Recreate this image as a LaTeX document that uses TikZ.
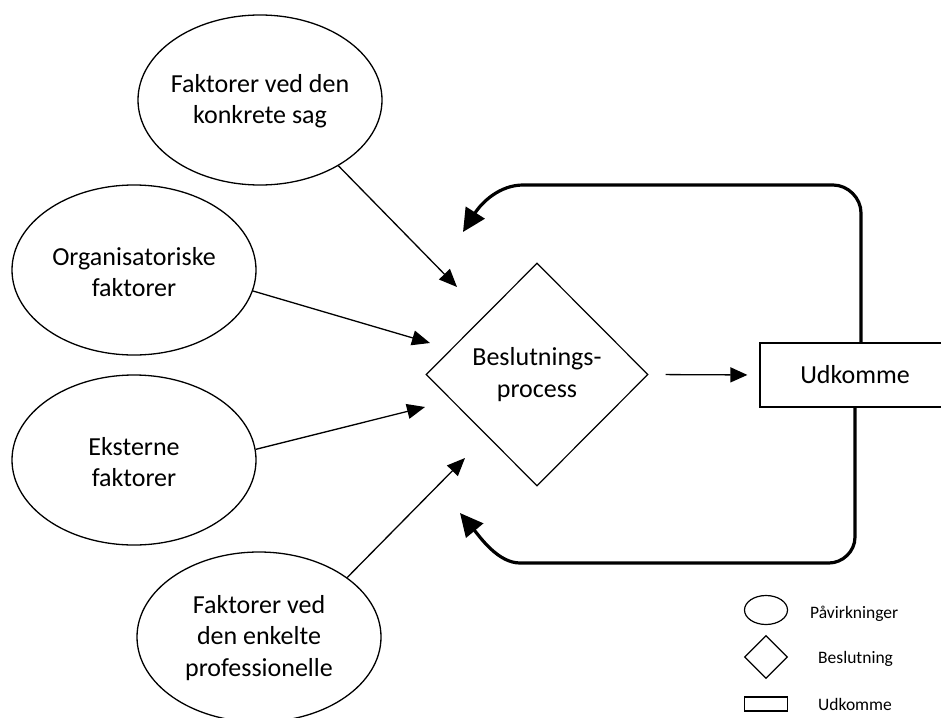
\documentclass[tikz,border=0pt]{standalone}
\usepackage{fontspec}
\setmainfont{Carlito}
\usetikzlibrary{arrows.meta,shapes.geometric}
\begin{document}
\begin{tikzpicture}[x=1pt,y=-1pt,
  infl/.style={draw,ellipse,line width=1.3pt,minimum width=244pt,minimum height=170pt,inner sep=0pt},
  intext/.style={align=center,inner sep=0pt,font=\fontsize{26}{31.5}\selectfont},
  decis/.style={draw,diamond,line width=1.2pt,minimum width=222pt,minimum height=223pt,inner sep=0pt,align=center,font=\fontsize{26}{31.5}\selectfont},
  outc/.style={draw,rectangle,line width=1.2pt,minimum width=190pt,minimum height=64pt,inner sep=0pt,font=\fontsize{26}{31.5}\selectfont},
  thinarrow/.style={line width=1.3pt,-{Triangle[length=18pt,width=15pt]}},
  fb/.style={line width=3.2pt,-{Triangle[length=23pt,width=22pt]}},
  lgtext/.style={anchor=base west,inner sep=0pt,font=\fontsize{17.5}{21}\selectfont},
]
\useasboundingbox (0,0) rectangle (941,717);

% influence ellipses
\node[infl] (e1) at (260,100) {};
\node[intext] (e1t) at (260,101) {Faktorer ved den\\konkrete sag};
\node[infl] (e2) at (134,270) {};
\node[intext] (e2t) at (134,272) {Organisatoriske\\faktorer};
\node[infl] (e3) at (134,460) {};
\node[intext] (e3t) at (134,462) {Eksterne\\faktorer};
\node[infl] (e4) at (259,637) {};
\node[intext] (e4t) at (259,638) {Faktorer ved\\den enkelte\\professionelle};

% decision and outcome
\node[decis] (d) at (537,374.5) {Beslutnings-\\process};
\node[outc] (u) at (855,375) {Udkomme};

% arrow tips near diamond
\coordinate (t1) at (457,287);
\coordinate (t2) at (430,343);
\coordinate (t3) at (425,407);
\coordinate (t4) at (465,458);

\draw[thinarrow] (e1.-40.7) -- (t1);
\draw[thinarrow] (e2.-10.8) -- (t2);
\draw[thinarrow] (e3.5.7) -- (t3);
\draw[thinarrow] (e4.34.7) -- (t4);

\draw[line width=1.3pt,-{Triangle[length=17pt,width=15pt]},shorten <=17pt,shorten >=12pt] (d.east) -- (u.west);

% feedback loops
\coordinate (f1) at (463,232);
\coordinate (f2) at (460,513);
\draw[fb] ([xshift=6pt]u.north) -- (861,213) .. controls (861,198) and (848,185) .. (833,185)
  -- (523,185) .. controls (500,185) and (482,202) .. (f1);
\draw[fb] ([xshift=0pt]u.south) -- (855,537) .. controls (855,552) and (842,563) .. (829,563)
  -- (520,563) .. controls (498,563) and (480,537) .. (f2);

% legend
\node[draw,ellipse,line width=1.2pt,minimum width=43pt,minimum height=29pt,inner sep=0pt] (lge) at (766,610) {};
\node[lgtext] (lget) at (810,618) {Påvirkninger};
\node[draw,diamond,line width=1.2pt,minimum width=43pt,minimum height=43pt,inner sep=0pt] (lgd) at (766,657) {};
\node[lgtext] (lgdt) at (818,663) {Beslutning};
\node[draw,rectangle,line width=1.2pt,minimum width=43pt,minimum height=14pt,inner sep=0pt] (lgr) at (766,704) {};
\node[lgtext] (lgrt) at (818,710) {Udkomme};
\end{tikzpicture}
\end{document}
